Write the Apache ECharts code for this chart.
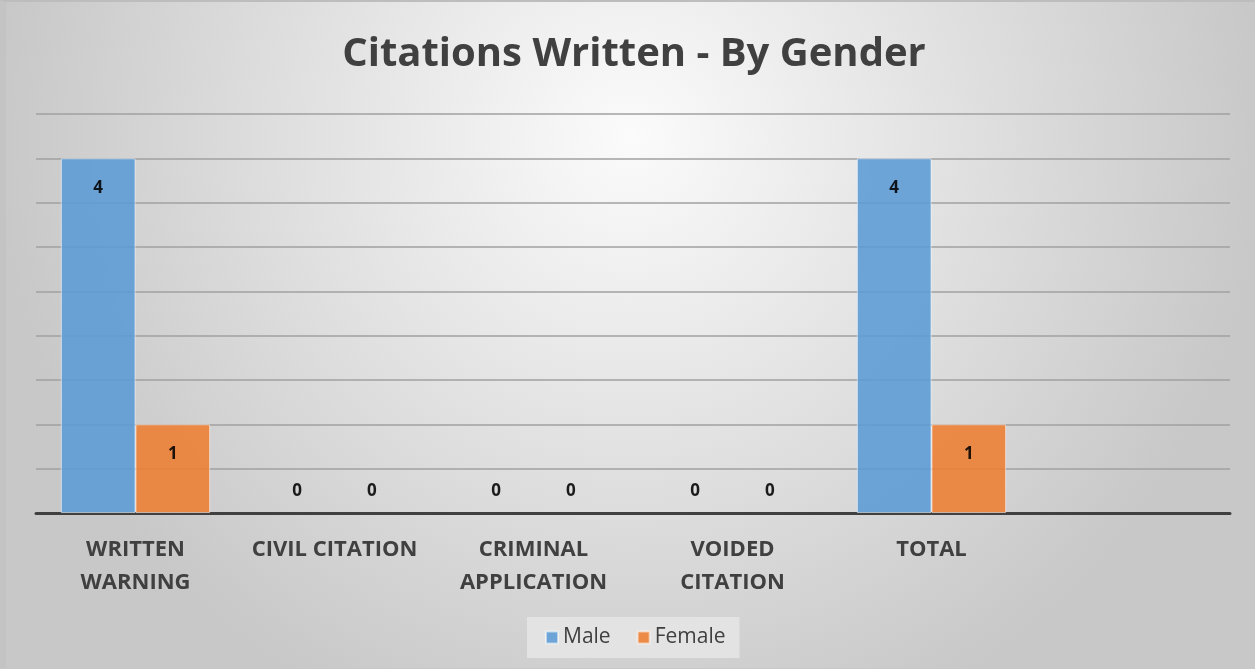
<!DOCTYPE html>
<html>
<head>
<meta charset="utf-8">
<script src="https://cdn.jsdelivr.net/npm/echarts@6/dist/echarts.min.js"></script>
<style>
html,body{margin:0;padding:0;background:#fff;}
#chart{position:absolute;left:0;top:0;width:1255px;height:669px;box-sizing:border-box;border:1px solid #c8c8c8;border-left:6px solid #c4c4c4;border-top:2px solid #bdbdbd;}
</style>
</head>
<body>
<div id="chart"></div>
<script>
const categories = ['WRITTEN\nWARNING', 'CIVIL CITATION', 'CRIMINAL\nAPPLICATION', 'VOIDED\nCITATION', 'TOTAL', ''];
const maleValues = [4, 0, 0, 0, 4, null];
const femaleValues = [1, 0, 0, 0, 1, null];
const seriesNames = ['Male', 'Female'];

const chart = echarts.init(document.getElementById('chart'));
const FONT = '"Open Sans", Lato, sans-serif';

function toData(vals) {
  return vals.map(v => v === 0
    ? {value: v, label: {position: 'top', distance: 13}, itemStyle: {borderWidth: 0}}
    : v);
}
const labelStyle = {
  show: true, position: 'insideTop', distance: 21,
  color: '#000', fontFamily: FONT, fontWeight: 'bold', fontSize: 17
};

chart.setOption({
  backgroundColor: {
    type: 'radial', x: 0.5, y: 0.2, r: 0.95,
    colorStops: [{offset: 0, color: '#fbfbfb'}, {offset: 1, color: '#c8c8c8'}]
  },
  title: {
    text: 'Citations Written - By Gender',
    left: 623, textAlign: 'center', top: 28,
    textStyle: {fontFamily: FONT, fontWeight: 'bold', fontSize: 40, color: '#404040'}
  },
  legend: {
    data: seriesNames,
    bottom: 10, left: 521,
    itemWidth: 12, itemHeight: 12, itemGap: 26,
    icon: 'rect',
    backgroundColor: '#e3e3e3',
    padding: [10, 14, 10, 18],
    textStyle: {fontFamily: FONT, fontSize: 21, color: '#404040'}
  },
  grid: {left: 30, right: 24, top: 112, bottom: 155, containLabel: false},
  xAxis: {
    type: 'category', data: categories,
    axisLine: {lineStyle: {color: '#404040', width: 3}},
    axisTick: {show: false},
    axisLabel: {
      interval: 0, margin: 20, lineHeight: 33,
      fontFamily: FONT, fontWeight: 'bold', fontSize: 22, color: '#404040'
    }
  },
  yAxis: {
    type: 'value', min: 0, max: 4.5, interval: 0.5,
    axisLabel: {show: false},
    axisLine: {show: false},
    axisTick: {show: false},
    splitLine: {lineStyle: {color: '#a0a0a0', width: 1.5}}
  },
  series: [
    {
      name: seriesNames[0], type: 'bar', data: toData(maleValues),
      barGap: '0%', barCategoryGap: '25%',
      itemStyle: {color: '#5b9bd5', opacity: 0.88, borderColor: 'rgba(255,255,255,0.6)', borderWidth: 1},
      label: labelStyle
    },
    {
      name: seriesNames[1], type: 'bar', data: toData(femaleValues),
      itemStyle: {color: '#ed7d31', opacity: 0.88, borderColor: 'rgba(255,255,255,0.6)', borderWidth: 1},
      label: labelStyle
    }
  ]
});
</script>
</body>
</html>
